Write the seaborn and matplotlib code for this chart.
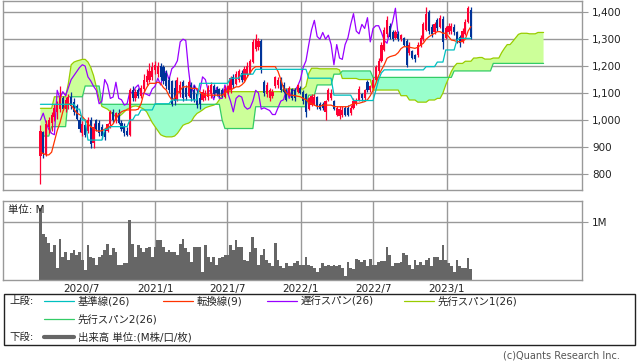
import numpy as np
import pandas as pd
import matplotlib
matplotlib.use("Agg")
import matplotlib.pyplot as plt
from matplotlib.patches import Rectangle
from matplotlib.ticker import FuncFormatter
import seaborn as sns

# Weekly candles, first week 2020-03-20 (price in yen)
first_week = "2020-03-20"
opens = [865, 955, 875, 975, 990, 1010, 1030, 1040, 1080, 1040,
         1060, 1085, 1065, 1050, 1000, 950, 980, 960, 1000, 915,
         1000, 990, 975, 955, 960, 985, 1030, 1000, 1025, 990,
         975, 960, 945, 1110, 1080, 1110, 1090, 1115, 1140, 1150,
         1160, 1185, 1170, 1200, 1195, 1175, 1150, 1145, 1120, 1075,
         1100, 1140, 1120, 1090, 1130, 1110, 1095, 1080, 1075, 1080,
         1085, 1095, 1125, 1110, 1115, 1110, 1085, 1100, 1110, 1160,
         1135, 1150, 1175, 1150, 1170, 1175, 1215, 1265, 1270, 1295,
         1140, 1095, 1080, 1090, 1125, 1130, 1150, 1130, 1110, 1095,
         1115, 1110, 1105, 1120, 1105, 1095, 1040, 1055, 1060, 1085,
         1060, 1060, 1030, 1075, 1080, 1070, 1020, 1015, 1020, 1045,
         1045, 1025, 1045, 1060, 1075, 1095, 1080, 1140, 1110, 1120,
         1150, 1180, 1220, 1260, 1320, 1350, 1325, 1305, 1320, 1300,
         1305, 1295, 1250, 1255, 1240, 1240, 1275, 1300, 1335, 1400,
         1345, 1325, 1370, 1345, 1375, 1305, 1325, 1330, 1345, 1325,
         1310, 1290, 1320, 1365, 1410]
highs = [980, 960, 1000, 1010, 1030, 1060, 1070, 1125, 1090, 1085,
         1095, 1105, 1080, 1060, 1010, 995, 990, 1010, 1010, 990,
         1005, 1000, 985, 965, 990, 1035, 1040, 1030, 1040, 1000,
         990, 975, 1120, 1125, 1115, 1120, 1130, 1170, 1190, 1210,
         1215, 1220, 1215, 1210, 1205, 1185, 1160, 1150, 1150, 1160,
         1145, 1150, 1130, 1150, 1140, 1130, 1110, 1100, 1115, 1110,
         1130, 1140, 1135, 1125, 1120, 1120, 1125, 1130, 1165, 1170,
         1180, 1190, 1185, 1200, 1215, 1225, 1300, 1320, 1305, 1300,
         1150, 1140, 1120, 1115, 1165, 1160, 1160, 1140, 1115, 1125,
         1120, 1120, 1135, 1125, 1110, 1100, 1085, 1095, 1095, 1090,
         1065, 1065, 1075, 1120, 1115, 1075, 1050, 1050, 1050, 1050,
         1055, 1055, 1080, 1080, 1125, 1100, 1115, 1150, 1130, 1160,
         1205, 1230, 1290, 1345, 1385, 1360, 1335, 1335, 1330, 1320,
         1310, 1300, 1290, 1260, 1245, 1290, 1315, 1365, 1420, 1410,
         1355, 1365, 1380, 1390, 1385, 1350, 1360, 1360, 1355, 1330,
         1315, 1340, 1375, 1425, 1420]
lows = [760, 860, 865, 950, 960, 995, 1005, 1030, 1035, 1030,
        1040, 1040, 1020, 1000, 955, 940, 935, 950, 895, 895,
        960, 940, 930, 925, 955, 970, 990, 990, 985, 960,
        940, 940, 940, 1070, 1070, 1080, 1080, 1105, 1130, 1140,
        1150, 1170, 1160, 1150, 1135, 1115, 1100, 1050, 1055, 1070,
        1085, 1070, 1075, 1085, 1070, 1065, 1045, 1040, 1070, 1075,
        1075, 1080, 1085, 1090, 1085, 1085, 1080, 1095, 1100, 1120,
        1130, 1140, 1140, 1145, 1160, 1170, 1210, 1255, 1260, 1175,
        1090, 1085, 1070, 1080, 1120, 1120, 1105, 1100, 1070, 1090,
        1075, 1070, 1100, 1095, 1060, 1010, 1035, 1050, 1055, 1040,
        1035, 1035, 1000, 1070, 1075, 1035, 1015, 1005, 1010, 1015,
        1015, 1020, 1040, 1055, 1070, 1070, 1070, 1105, 1105, 1115,
        1145, 1175, 1215, 1255, 1310, 1300, 1295, 1300, 1295, 1295,
        1275, 1195, 1240, 1225, 1215, 1235, 1270, 1295, 1330, 1320,
        1310, 1320, 1330, 1340, 1265, 1300, 1320, 1320, 1315, 1285,
        1270, 1285, 1315, 1360, 1300]
closes = [960, 875, 985, 1000, 1020, 1045, 1060, 1080, 1040, 1075,
          1085, 1050, 1030, 1005, 965, 985, 945, 1000, 910, 975,
          965, 950, 940, 935, 985, 1030, 1000, 1025, 990, 965,
          950, 945, 1110, 1080, 1105, 1090, 1120, 1150, 1165, 1180,
          1195, 1205, 1200, 1160, 1145, 1125, 1110, 1060, 1070, 1150,
          1130, 1080, 1085, 1140, 1080, 1075, 1055, 1060, 1105, 1100,
          1120, 1130, 1095, 1100, 1095, 1090, 1115, 1125, 1155, 1130,
          1170, 1180, 1150, 1190, 1200, 1220, 1290, 1300, 1295, 1185,
          1100, 1130, 1110, 1105, 1160, 1150, 1110, 1105, 1075, 1120,
          1080, 1080, 1130, 1100, 1070, 1030, 1080, 1090, 1085, 1050,
          1040, 1045, 1070, 1110, 1100, 1040, 1045, 1040, 1035, 1020,
          1020, 1045, 1070, 1075, 1115, 1080, 1110, 1110, 1125, 1150,
          1195, 1220, 1280, 1335, 1370, 1310, 1300, 1325, 1300, 1315,
          1280, 1205, 1280, 1230, 1225, 1280, 1305, 1355, 1395, 1330,
          1320, 1355, 1340, 1380, 1290, 1340, 1350, 1350, 1325, 1295,
          1285, 1330, 1365, 1415, 1310]
volume_m = [1.25, 0.79, 0.75, 0.64, 0.49, 0.61, 0.22, 0.72, 0.41, 0.49,
            0.35, 0.47, 0.52, 0.44, 0.49, 0.35, 0.18, 0.61, 0.41, 0.38,
            0.26, 0.41, 0.44, 0.52, 0.62, 0.44, 0.56, 0.49, 0.26, 0.27,
            0.30, 0.29, 1.04, 0.62, 0.41, 0.61, 0.55, 0.49, 0.56, 0.58,
            0.41, 0.58, 0.69, 0.69, 0.58, 0.49, 0.52, 0.49, 0.49, 0.44,
            0.62, 0.72, 0.56, 0.49, 0.32, 0.58, 0.58, 0.58, 0.15, 0.61,
            0.41, 0.32, 0.40, 0.27, 0.38, 0.40, 0.44, 0.44, 0.61, 0.52,
            0.69, 0.58, 0.58, 0.35, 0.33, 0.49, 0.74, 0.56, 0.27, 0.44,
            0.54, 0.35, 0.30, 0.24, 0.64, 0.35, 0.24, 0.21, 0.30, 0.25,
            0.24, 0.30, 0.33, 0.26, 0.27, 0.40, 0.26, 0.25, 0.22, 0.15,
            0.21, 0.30, 0.24, 0.26, 0.24, 0.27, 0.24, 0.27, 0.21, 0.07,
            0.31, 0.21, 0.20, 0.37, 0.35, 0.32, 0.35, 0.24, 0.37, 0.27,
            0.26, 0.31, 0.33, 0.33, 0.58, 0.44, 0.24, 0.30, 0.30, 0.31,
            0.47, 0.44, 0.26, 0.20, 0.35, 0.26, 0.32, 0.27, 0.35, 0.38,
            0.25, 0.41, 0.41, 0.35, 0.60, 0.35, 0.30, 0.24, 0.15, 0.35,
            0.25, 0.21, 0.22, 0.38, 0.20]

# Ichimoku lines (one value per week)
tenkan = [880, 875, 870, 870, 880, 920, 960, 990, 1030, 1060,
          1062, 1055, 1040, 1025, 1020, 1012, 1000, 985, 975, 968,
          960, 958, 960, 965, 975, 975, 985, 1005, 1020, 1030,
          1035, 1037, 1037, 1037, 1037, 1040, 1060, 1099, 1120, 1136,
          1136, 1136, 1140, 1136, 1120, 1111, 1090, 1074, 1080, 1100,
          1110, 1123, 1123, 1123, 1117, 1117, 1117, 1105, 1095, 1092,
          1092, 1092, 1092, 1092, 1092, 1092, 1100, 1111, 1111, 1117,
          1123, 1123, 1130, 1140, 1160, 1175, 1190, 1198, 1198, 1198,
          1198, 1198, 1198, 1198, 1198, 1180, 1150, 1117, 1100, 1092,
          1092, 1090, 1088, 1086, 1080, 1075, 1065, 1060, 1055, 1050,
          1050, 1055, 1055, 1055, 1055, 1050, 1049, 1049, 1049, 1049,
          1049, 1055, 1060, 1062, 1062, 1065, 1068, 1075, 1090, 1110,
          1136, 1165, 1186, 1205, 1229, 1235, 1238, 1241, 1250, 1265,
          1272, 1272, 1270, 1268, 1266, 1270, 1278, 1285, 1300, 1309,
          1316, 1322, 1328, 1328, 1322, 1322, 1310, 1297, 1295, 1291,
          1291, 1291, 1300, 1330, 1347]
kijun = ([1058] * 13 + [1040] * 2 + [1000] * 2 + [925] * 6 + [965] * 2
         + [975] * 7 + [1000] * 2 + [1018] * 2 + [1037] * 5 + [1060] * 6
         + [1074] * 10 + [1136] * 11 + [1155] * 4 + [1170] * 5 + [1188] * 19
         + [1155] * 9 + [1092] * 7 + [1072] * 8 + [1110, 1150, 1175]
         + [1186] * 15 + [1198] * 4 + [1215] * 3 + [1260] * 4 + [1297]
         + [1303] * 5)
# leading spans, already placed 26 weeks ahead (181 weeks)
span1 = ([1043] * 5 + [1086] * 5
         + [1136, 1205, 1215, 1219, 1222, 1225, 1225, 1215, 1195, 1165, 1123, 1080]
         + [1050, 1045, 1040, 1030, 1020, 1012, 1012, 1020, 1030, 1040,
            1045, 1050, 1052, 1050, 1045, 1040, 1030, 1010, 990, 975,
            960, 945, 940, 937, 937, 937, 940, 950, 965, 980,
            985, 988, 995, 1012, 1024, 1030, 1037, 1045, 1049, 1052,
            1055, 1060, 1075, 1090, 1100]
         + [1105] * 20 + [1115] * 8 + [1125, 1173] + [1192] * 3 + [1190] * 7
         + [1186] + [1154] * 6 + [1150] * 5 + [1111] * 10 + [1090] * 3
         + [1074] * 3 + [1066] * 4 + [1074] * 3 + [1080] * 2
         + [1100, 1130, 1155, 1180, 1198] + [1210] * 3 + [1218] * 3
         + [1230] * 2 + [1232] * 2 + [1226] * 3 + [1230] * 3
         + [1250, 1266, 1280, 1280, 1292, 1305, 1318] + [1322] * 3
         + [1320] * 3 + [1325] * 3)
span2 = ([940] * 4 + [975] * 6 + [1086] * 6 + [1126] * 6 + [1058] * 43
         + [1000] + [968] * 11 + [1049] * 19 + [1092] * 3 + [1130] * 6
         + [1170] * 3 + [1182] * 11 + [1158] * 29 + [1182] * 14 + [1210] * 19)
chikou_lag = 26

price_ticks = [800, 900, 1000, 1100, 1200, 1300, 1400]
date_ticks = ["2020-07-01", "2021-01-01", "2021-07-01", "2022-01-01", "2022-07-01", "2023-01-01"]
date_tick_labels = ["2020/7", "2021/1", "2021/7", "2022/1", "2022/7", "2023/1"]

# Colours
UP, DOWN = "#FF0033", "#003399"
C_KIJUN, C_TENKAN, C_CHIKOU = "#00C0C0", "#FF3300", "#9900FF"
C_SPAN1, C_SPAN2 = "#99CC00", "#33CC66"
FILL_UP, FILL_DN = "#CCFF99", "#99FFCC"
GRID = "#999999"

sns.set_style("white")
plt.rcParams["font.family"] = ["DejaVu Sans", "Noto Sans CJK JP"]

n = len(closes)
dates = pd.date_range(first_week, periods=len(span1), freq="7D")
df = pd.DataFrame({"date": dates[:n], "open": opens, "high": highs, "low": lows,
                   "close": closes, "volume": volume_m, "tenkan": tenkan, "kijun": kijun})
cloud = pd.DataFrame({"date": dates, "span1": span1, "span2": span2})
chikou = pd.DataFrame({"date": dates[:n - chikou_lag], "close": closes[chikou_lag:]})

W, H = 638, 362
fig = plt.figure(figsize=(W / 100, H / 100), dpi=100)


def px_axes(left, top, right, bottom):
    return fig.add_axes([left / W, 1 - bottom / H, (right - left) / W, (bottom - top) / H])


ax = px_axes(3.3, 0.5, 582.3, 190)
axv = px_axes(3.3, 201, 582.3, 280.3)
xlim = (pd.Timestamp("2019-12-18"), pd.Timestamp("2023-12-07"))

# --- upper panel: cloud, lines, candles
up = cloud["span1"] >= cloud["span2"]
ax.fill_between(cloud["date"], cloud["span1"], cloud["span2"], where=up,
                interpolate=True, color=FILL_UP, lw=0, zorder=1)
ax.fill_between(cloud["date"], cloud["span1"], cloud["span2"], where=~up,
                interpolate=True, color=FILL_DN, lw=0, zorder=1)
sns.lineplot(data=cloud, x="date", y="span1", ax=ax, color=C_SPAN1, lw=0.9, zorder=2, legend=False)
sns.lineplot(data=cloud, x="date", y="span2", ax=ax, color=C_SPAN2, lw=0.9, zorder=2, legend=False)
sns.lineplot(data=chikou, x="date", y="close", ax=ax, color=C_CHIKOU, lw=0.9, zorder=3, legend=False)

colors = np.where(df["close"] >= df["open"], UP, DOWN)
ax.vlines(df["date"], df["low"], df["high"], colors=colors, lw=0.9, zorder=4)
body_lo = np.minimum(df["open"], df["close"])
body_h = np.maximum(np.abs(df["close"] - df["open"]), 3)
ax.bar(df["date"], body_h, bottom=body_lo, width=5.4, color=colors, lw=0, zorder=4)

sns.lineplot(data=df, x="date", y="tenkan", ax=ax, color=C_TENKAN, lw=0.9, zorder=5, legend=False)
sns.lineplot(data=df, x="date", y="kijun", ax=ax, color=C_KIJUN, lw=0.9, zorder=5, legend=False)

ax.set_xlim(*xlim)
ax.set_ylim(739.5, 1443.8)
ax.set_yticks(price_ticks)
ax.yaxis.set_major_formatter(FuncFormatter(lambda v, p: f"{int(v):,}"))
ax.yaxis.tick_right()
ax.set_xticks(pd.to_datetime(date_ticks))
ax.set_xticklabels([])

# --- lower panel: volume
axv.bar(df["date"], df["volume"], width=7, color="#666666", lw=0, zorder=2, antialiased=False)
axv.set_xlim(*xlim)
axv.set_ylim(0, 1.367)
axv.set_yticks([1.0])
axv.set_yticklabels(["1M"])
axv.yaxis.tick_right()
axv.set_xticks(pd.to_datetime(date_ticks))
axv.set_xticklabels(date_tick_labels)

for a in (ax, axv):
    a.set_xlabel("")
    a.set_ylabel("")
    a.grid(True, color=GRID, lw=1.0)
    a.set_axisbelow(True)
    for s in a.spines.values():
        s.set_color(GRID)
        s.set_linewidth(1.0)
    a.tick_params(axis="y", length=4, color=GRID, pad=3, labelsize=7.5, labelcolor="#222222")
    a.tick_params(axis="x", length=0, pad=3, labelsize=7.5, labelcolor="#222222")

# --- overlay in pixel space for legend and notes
ov = fig.add_axes([0, 0, 1, 1])
ov.set_xlim(0, W)
ov.set_ylim(H, 0)
ov.axis("off")
ov.patch.set_alpha(0)

ov.text(8, 210, "単位: M", fontsize=7.5, va="center", ha="left", color="#222222")

ov.add_patch(Rectangle((3.5, 293.5), 631.5, 51, fill=False, ec="#222222", lw=1.0))
fs = 7.5
ov.text(9, 301, "上段:", fontsize=fs, va="center")
row1 = [(44, C_KIJUN, "基準線(26)"), (163, C_TENKAN, "転換線(9)"),
        (267, C_CHIKOU, "遅行スパン(26)"), (404, C_SPAN1, "先行スパン1(26)")]
for x0, c, label in row1:
    ov.plot([x0, x0 + 30], [301, 301], color=c, lw=0.9)
    ov.text(x0 + 34, 301, label, fontsize=fs, va="center")
ov.plot([44, 74], [319, 319], color=C_SPAN2, lw=0.9)
ov.text(78, 319, "先行スパン2(26)", fontsize=fs, va="center")
ov.text(9, 337, "下段:", fontsize=fs, va="center")
ov.plot([44, 74], [337, 337], color="#666666", lw=3)
ov.text(78, 337, "出来高 単位:(M株/口/枚)", fontsize=fs, va="center")

ov.text(620, 356, "(c)Quants Research Inc.", fontsize=7, ha="right", va="center", color="#555555")

fig.savefig("out.png", dpi=100)
